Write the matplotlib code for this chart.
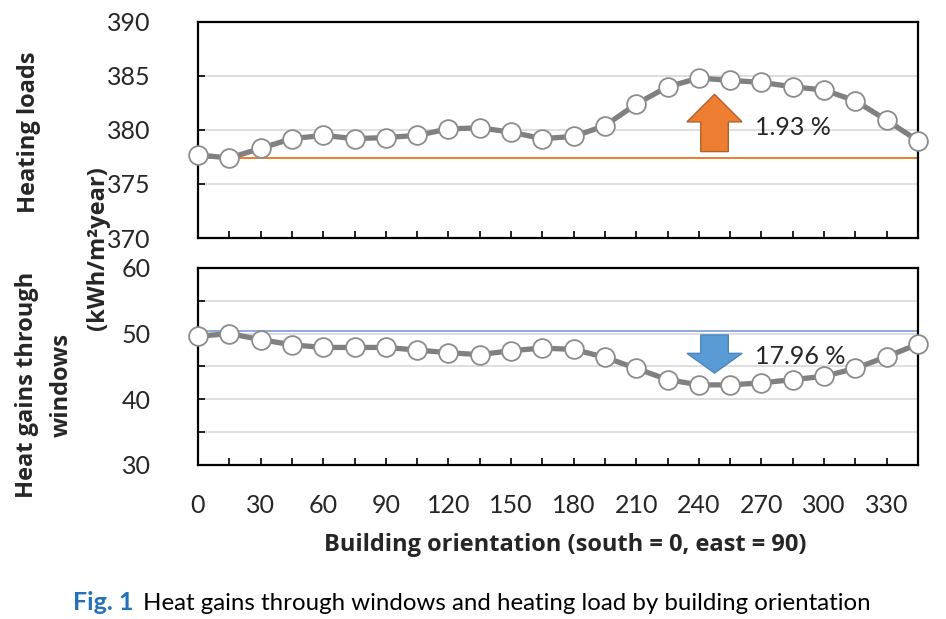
import matplotlib
matplotlib.use("Agg")
import matplotlib.pyplot as plt
from matplotlib.patches import FancyArrow

# orientation (deg), south = 0, east = 90
orientation = list(range(0, 360, 15))

heating_load = [377.7, 377.4, 378.3, 379.2, 379.5, 379.2, 379.3, 379.5,
                380.1, 380.2, 379.8, 379.2, 379.4, 380.4, 382.4, 384.0,
                384.8, 384.6, 384.4, 384.0, 383.7, 382.7, 380.9, 379.0]
heat_gain = [49.6, 50.0, 49.1, 48.3, 47.9, 47.9, 47.9, 47.5,
             47.1, 46.8, 47.4, 47.8, 47.6, 46.4, 44.7, 43.0,
             42.2, 42.2, 42.5, 43.0, 43.5, 44.7, 46.5, 48.4]

heating_ref = 377.4
gain_ref = 50.4
heating_change = "1.93 %"
gain_change = "17.96 %"

FONT = "Lato"
BOLD = "Open Sans"
TXT = "#262626"
plt.rcParams["font.family"] = [FONT, "DejaVu Sans"]

fig = plt.figure(figsize=(9.46, 6.19), dpi=100)
ax1 = fig.add_axes([0.2093, 0.6155, 0.7611, 0.349])
ax2 = fig.add_axes([0.2093, 0.2488, 0.7611, 0.3183])


def style_axis(ax, ylim, ystep):
    ax.set_xlim(0, 345)
    ax.set_ylim(*ylim)
    ax.set_xticks(orientation)
    ax.set_xticklabels([])
    ax.set_yticks(list(range(ylim[0], ylim[1] + 1, ystep)))
    ax.grid(axis="y", color="#d9d9d9", linewidth=1.2, zorder=0)
    ax.tick_params(axis="both", direction="in", length=5, width=1.2,
                   color="black", labelsize=18, labelcolor=TXT)
    ax.tick_params(axis="y", pad=34)
    for sp in ax.spines.values():
        sp.set_linewidth(1.6)
        sp.set_color("black")
    ax.set_axisbelow(True)


style_axis(ax1, (370, 390), 5)
ax1.set_yticklabels([str(v) for v in range(370, 391, 5)])
style_axis(ax2, (30, 60), 5)
ax2.set_yticklabels([str(v) if v % 10 == 0 else "" for v in range(30, 61, 5)])

# bottom x labels
ax2.set_xticklabels([str(v) if v % 30 == 0 else "" for v in orientation])
ax2.tick_params(axis="x", pad=21)

line_kw = dict(color="#808080", linewidth=3.8, marker="o", markersize=13.5,
               markerfacecolor="white", markeredgecolor="#8c8c8c",
               markeredgewidth=1.3, zorder=4, clip_on=False)

ax1.axhline(heating_ref, color="#ED7D31", linewidth=1.4, zorder=2)
ax1.plot(orientation, heating_load, **line_kw)

ax2.axhline(gain_ref, color="#8EA9DB", linewidth=1.4, zorder=2)
ax2.plot(orientation, heat_gain, **line_kw)

# change arrows
arrow_x = (orientation[16] + orientation[17]) / 2
ax1.add_patch(FancyArrow(arrow_x, 378.0, 0, 5.3, width=13.2, head_width=26.4,
                         head_length=2.55, length_includes_head=True,
                         facecolor="#ED7D31", edgecolor="#B0602A",
                         linewidth=1.0, zorder=5))
ax1.text(267, 380.2, heating_change, fontsize=18, color=TXT, va="center",
         ha="left", zorder=6)

ax2.add_patch(FancyArrow(arrow_x, 49.8, 0, -5.8, width=13.2, head_width=26.4,
                         head_length=3.0, length_includes_head=True,
                         facecolor="#5B9BD5", edgecolor="#4a86bd",
                         linewidth=1.0, zorder=5))
ax2.text(267, 46.5, gain_change, fontsize=18, color=TXT, va="center",
         ha="left", zorder=6)

# axis labels
lab_kw = dict(fontsize=17, fontweight="bold", color=TXT, family=BOLD)
fig.text(29 / 946, 1 - 132 / 619, "Heating loads", rotation=90,
         ha="center", va="center", **lab_kw)
fig.text(44 / 946, 1 - 385 / 619, "Heat gains through\nwindows", rotation=90,
         ha="center", va="center", multialignment="center",
         linespacing=1.6, **lab_kw)
fig.text(98 / 946, 1 - 248 / 619, "(kWh/m²year)", rotation=90,
         ha="center", va="center", **lab_kw)
fig.text(0.597, 1 - 545 / 619, "Building orientation (south = 0, east = 90)",
         ha="center", va="center", **lab_kw)

# caption
fig.text(73 / 946, 1 - 603 / 619, "Fig. 1", fontsize=18, fontweight="bold",
         color="#2472B9", ha="left", va="center")
fig.text(143 / 946, 1 - 603 / 619,
         "Heat gains through windows and heating load by building orientation",
         fontsize=17.3, color="black", ha="left", va="center")

fig.savefig("out.png", dpi=100)
